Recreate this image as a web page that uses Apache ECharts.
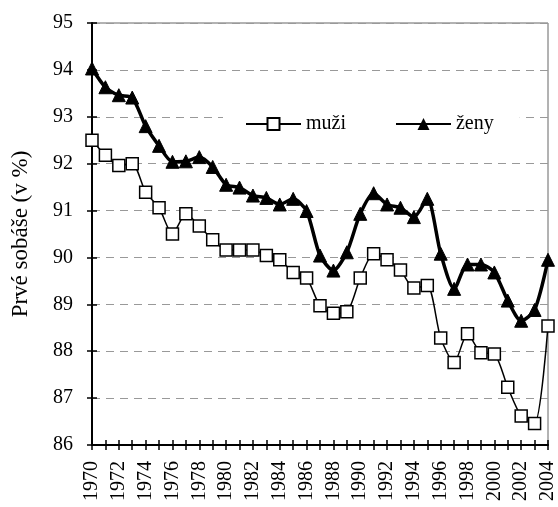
<!DOCTYPE html>
<html>
<head>
<meta charset="utf-8">
<script src="https://cdn.jsdelivr.net/npm/echarts@6/dist/echarts.min.js"></script>
<style>
  html, body { margin: 0; padding: 0; background: #fff; }
  #chart { width: 558px; height: 507px; }
</style>
</head>
<body>
<div id="chart"></div>
<script>
  // roky
  const years = [];
  for (let y = 1970; y <= 2004; y++) years.push(String(y));

  // podiel prvých sobášov (v %)
  const muzi = [92.5, 92.18, 91.96, 92.0, 91.39, 91.06, 90.5, 90.93, 90.67, 90.38,
    90.16, 90.16, 90.16, 90.04, 89.95, 89.68, 89.56, 88.97, 88.81, 88.84,
    89.56, 90.08, 89.95, 89.73, 89.35, 89.4, 88.28, 87.76, 88.37, 87.97,
    87.94, 87.23, 86.62, 86.46, 88.54];
  const zeny = [94.03, 93.63, 93.46, 93.41, 92.8, 92.38, 92.04, 92.05, 92.14, 91.93,
    91.55, 91.49, 91.32, 91.27, 91.13, 91.25, 90.99, 90.04, 89.72, 90.11,
    90.93, 91.37, 91.13, 91.06, 90.86, 91.25, 90.08, 89.33, 89.85, 89.85,
    89.68, 89.08, 88.65, 88.88, 89.95];

  const font = "'Liberation Serif', 'Times New Roman', serif";

  const chart = echarts.init(document.getElementById('chart'));

  const option = {
    animation: false,
    backgroundColor: '#fff',
    textStyle: { fontFamily: font, color: '#000' },
    grid: {
      left: 92, right: 8, top: 23, bottom: 62,
      show: true, borderColor: '#666', borderWidth: 1
    },
    legend: {
      left: 223, top: 106,
      padding: [8, 26, 8, 22],
      backgroundColor: '#fff',
      itemWidth: 55, itemHeight: 15, itemGap: 49,
      textStyle: { fontFamily: font, fontSize: 20, color: '#000' },
      data: ['muži', 'ženy']
    },
    xAxis: [
      {
        type: 'category', data: years, boundaryGap: false, position: 'bottom',
        axisLine: { lineStyle: { color: '#000', width: 2 } },
        axisTick: { interval: 0, length: 5, lineStyle: { color: '#000', width: 1.5 } },
        axisLabel: { interval: 1, rotate: 90, margin: 16, fontFamily: font, fontSize: 20, color: '#000' },
        splitLine: { show: false }
      },
      {
        type: 'category', data: years, boundaryGap: false, position: 'bottom',
        axisLine: { show: false },
        axisTick: { interval: 0, inside: true, length: 5, lineStyle: { color: '#000', width: 1.5 } },
        axisLabel: { show: false },
        splitLine: { show: false }
      }
    ],
    yAxis: [
      {
        type: 'value', min: 86, max: 95, interval: 1, position: 'left',
        name: 'Prvé sobáše (v %)', nameLocation: 'middle', nameGap: 60,
        nameTextStyle: { fontFamily: font, fontSize: 23, color: '#000' },
        axisLine: { show: true, lineStyle: { color: '#000', width: 2 } },
        axisTick: { show: true, length: 5, lineStyle: { color: '#000', width: 1.5 } },
        axisLabel: { margin: 19, fontFamily: font, fontSize: 20, color: '#000' },
        splitLine: { show: true, lineStyle: { color: '#999', type: [8, 6], width: 1 } }
      },
      {
        type: 'value', min: 86, max: 95, interval: 1, position: 'left',
        axisLine: { show: false },
        axisTick: { show: true, inside: true, length: 5, lineStyle: { color: '#000', width: 1.5 } },
        axisLabel: { show: false },
        splitLine: { show: false }
      }
    ],
    series: [
      {
        name: 'muži', type: 'line', data: muzi, smooth: 0.25,
        showAllSymbol: true,
        symbol: 'rect', symbolSize: 12,
        lineStyle: { color: '#000', width: 1.5 },
        itemStyle: { color: '#fff', borderColor: '#000', borderWidth: 1.5 }
      },
      {
        name: 'ženy', type: 'line', data: zeny, smooth: 0.25,
        showAllSymbol: true,
        symbol: 'triangle', symbolSize: 13,
        lineStyle: { color: '#000', width: 3.5 },
        itemStyle: { color: '#000', borderColor: '#000' }
      }
    ]
  };

  chart.setOption(option);
</script>
</body>
</html>
